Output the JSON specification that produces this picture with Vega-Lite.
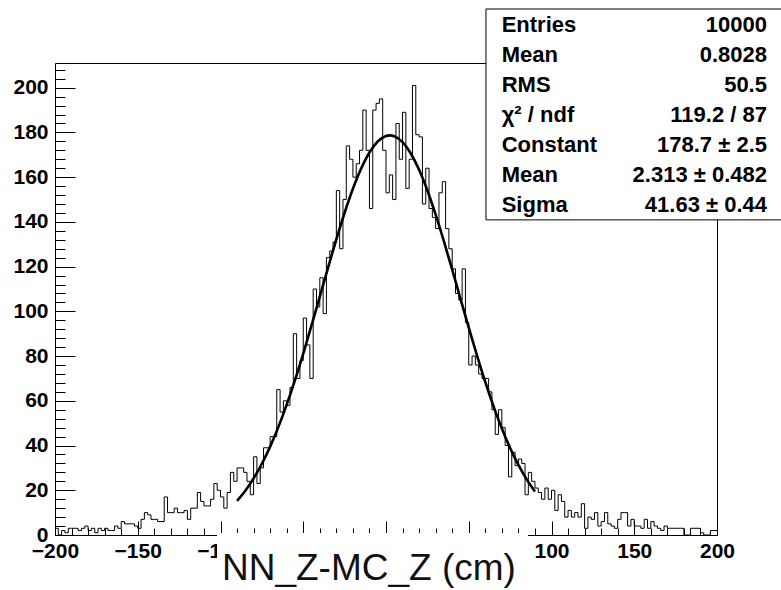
{
"$schema":"https://vega.github.io/schema/vega-lite/v6.json",
"width":662,"height":472,
"autosize":{"type":"none"},
"padding":{"left":55,"top":63,"right":64,"bottom":55},
"background":"white",
"config":{"view":{"stroke":"black","strokeWidth":1},"font":"Liberation Sans"},
"datasets":{
"bins":[
{"lo":-200,"n":3},{"lo":-198,"n":0},{"lo":-196,"n":2},{"lo":-194,"n":1},{"lo":-192,"n":3},{"lo":-190,"n":3},{"lo":-188,"n":3},{"lo":-186,"n":2},{"lo":-184,"n":3},{"lo":-182,"n":4},
{"lo":-180,"n":2},{"lo":-178,"n":3},{"lo":-176,"n":1},{"lo":-174,"n":3},{"lo":-172,"n":2},{"lo":-170,"n":3},{"lo":-168,"n":2},{"lo":-166,"n":2},{"lo":-164,"n":4},{"lo":-162,"n":3},
{"lo":-160,"n":6},{"lo":-158,"n":5},{"lo":-156,"n":5},{"lo":-154,"n":5},{"lo":-152,"n":4},{"lo":-150,"n":3},{"lo":-148,"n":7},{"lo":-146,"n":10},{"lo":-144,"n":9},{"lo":-142,"n":7},
{"lo":-140,"n":7},{"lo":-138,"n":6},{"lo":-136,"n":6},{"lo":-134,"n":17},{"lo":-132,"n":10},{"lo":-130,"n":10},{"lo":-128,"n":12},{"lo":-126,"n":10},{"lo":-124,"n":10},{"lo":-122,"n":11},
{"lo":-120,"n":7},{"lo":-118,"n":12},{"lo":-116,"n":12},{"lo":-114,"n":19},{"lo":-112,"n":15},{"lo":-110,"n":13},{"lo":-108,"n":13},{"lo":-106,"n":16},{"lo":-104,"n":23},{"lo":-102,"n":20},
{"lo":-100,"n":17},{"lo":-98,"n":12},{"lo":-96,"n":19},{"lo":-94,"n":28},{"lo":-92,"n":24},{"lo":-90,"n":30},{"lo":-88,"n":30},{"lo":-86,"n":28},{"lo":-84,"n":24},{"lo":-82,"n":18},
{"lo":-80,"n":35},{"lo":-78,"n":23},{"lo":-76,"n":30},{"lo":-74,"n":39},{"lo":-72,"n":39},{"lo":-70,"n":44},{"lo":-68,"n":44},{"lo":-66,"n":65},{"lo":-64,"n":55},{"lo":-62,"n":60},
{"lo":-60,"n":58},{"lo":-58,"n":66},{"lo":-56,"n":90},{"lo":-54,"n":70},{"lo":-52,"n":78},{"lo":-50,"n":97},{"lo":-48,"n":85},{"lo":-46,"n":70},{"lo":-44,"n":110},{"lo":-42,"n":102},
{"lo":-40,"n":115},{"lo":-38,"n":99},{"lo":-36,"n":124},{"lo":-34,"n":127},{"lo":-32,"n":131},{"lo":-30,"n":154},{"lo":-28,"n":128},{"lo":-26,"n":150},{"lo":-24,"n":174},{"lo":-22,"n":168},
{"lo":-20,"n":160},{"lo":-18,"n":166},{"lo":-16,"n":172},{"lo":-14,"n":190},{"lo":-12,"n":172},{"lo":-10,"n":146},{"lo":-8,"n":190},{"lo":-6,"n":193},{"lo":-4,"n":195},{"lo":-2,"n":172},
{"lo":0,"n":153},{"lo":2,"n":161},{"lo":4,"n":150},{"lo":6,"n":184},{"lo":8,"n":168},{"lo":10,"n":189},{"lo":12,"n":155},{"lo":14,"n":168},{"lo":16,"n":201},{"lo":18,"n":179},
{"lo":20,"n":178},{"lo":22,"n":148},{"lo":24,"n":164},{"lo":26,"n":146},{"lo":28,"n":142},{"lo":30,"n":137},{"lo":32,"n":153},{"lo":34,"n":158},{"lo":36,"n":137},{"lo":38,"n":128},
{"lo":40,"n":119},{"lo":42,"n":108},{"lo":44,"n":105},{"lo":46,"n":119},{"lo":48,"n":95},{"lo":50,"n":76},{"lo":52,"n":80},{"lo":54,"n":76},{"lo":56,"n":72},{"lo":58,"n":70},
{"lo":60,"n":70},{"lo":62,"n":64},{"lo":64,"n":56},{"lo":66,"n":45},{"lo":68,"n":56},{"lo":70,"n":48},{"lo":72,"n":40},{"lo":74,"n":26},{"lo":76,"n":37},{"lo":78,"n":31},
{"lo":80,"n":34},{"lo":82,"n":32},{"lo":84,"n":18},{"lo":86,"n":28},{"lo":88,"n":24},{"lo":90,"n":21},{"lo":92,"n":19},{"lo":94,"n":16},{"lo":96,"n":21},{"lo":98,"n":16},
{"lo":100,"n":20},{"lo":102,"n":11},{"lo":104,"n":18},{"lo":106,"n":15},{"lo":108,"n":8},{"lo":110,"n":11},{"lo":112,"n":8},{"lo":114,"n":10},{"lo":116,"n":8},{"lo":118,"n":14},
{"lo":120,"n":3},{"lo":122,"n":8},{"lo":124,"n":7},{"lo":126,"n":10},{"lo":128,"n":4},{"lo":130,"n":6},{"lo":132,"n":10},{"lo":134,"n":5},{"lo":136,"n":4},{"lo":138,"n":3},
{"lo":140,"n":7},{"lo":142,"n":10},{"lo":144,"n":10},{"lo":146,"n":4},{"lo":148,"n":7},{"lo":150,"n":4},{"lo":152,"n":4},{"lo":154,"n":3},{"lo":156,"n":7},{"lo":158,"n":3},
{"lo":160,"n":6},{"lo":162,"n":4},{"lo":164,"n":3},{"lo":166,"n":2},{"lo":168,"n":4},{"lo":170,"n":3},{"lo":172,"n":3},{"lo":174,"n":3},{"lo":176,"n":3},{"lo":178,"n":3},
{"lo":180,"n":0},{"lo":182,"n":0},{"lo":184,"n":3},{"lo":186,"n":3},{"lo":188,"n":3},{"lo":190,"n":1},{"lo":192,"n":0},{"lo":194,"n":0},{"lo":196,"n":2},{"lo":198,"n":2},
{"lo":200,"n":2}
],
"fit":[
{"x":-90,"f":15.29},{"x":-85,"f":19.81},{"x":-80,"f":25.30},{"x":-75,"f":31.86},{"x":-70,"f":39.53},{"x":-65,"f":48.35},{"x":-60,"f":58.29},{"x":-55,"f":69.27},{"x":-50,"f":81.14},{"x":-45,"f":93.68},
{"x":-40,"f":106.61},{"x":-35,"f":119.59},{"x":-30,"f":132.23},{"x":-25,"f":144.10},{"x":-20,"f":154.79},{"x":-15,"f":163.89},{"x":-10,"f":171.05},{"x":-5,"f":175.96},{"x":0,"f":178.42},{"x":2.313,"f":178.7},
{"x":5,"f":178.33},{"x":10,"f":175.68},{"x":15,"f":170.59},{"x":20,"f":163.28},{"x":25,"f":154.04},{"x":30,"f":143.25},{"x":35,"f":131.30},{"x":40,"f":118.62},{"x":45,"f":105.64},{"x":50,"f":92.72},
{"x":55,"f":80.23},{"x":60,"f":68.42},{"x":65,"f":57.51},{"x":70,"f":47.65},{"x":75,"f":38.92},{"x":80,"f":31.33},{"x":85,"f":24.86},{"x":90,"f":19.45}
],
"stats":[{"labels":["Entries","Mean","RMS","χ² / ndf","Constant","Mean","Sigma"],"vals":["10000","0.8028","50.5","119.2 / 87","178.7 ± 2.5","2.313 ± 0.482","41.63 ± 0.44"]}],
"title":[{"t":"NN_Z-MC_Z (cm)"}]
},
"layer":[
{"data":{"name":"bins"},
 "mark":{"type":"line","interpolate":"step-after","color":"black","strokeWidth":1},
 "encoding":{
  "x":{"field":"lo","type":"quantitative","title":null,"scale":{"domain":[-200,200],"nice":false,"zero":false},
   "axis":{"values":[-200,-190,-180,-170,-160,-150,-140,-130,-120,-110,-100,-90,-80,-70,-60,-50,-40,-30,-20,-10,0,10,20,30,40,50,60,70,80,90,100,110,120,130,140,150,160,170,180,190,200],
    "tickCount":1000,"format":"d",
    "labelExpr":"(datum.value % 50 === 0 && (datum.value < -60 || datum.value > 60)) ? datum.label : ''",
    "tickSize":{"condition":{"test":"datum.value % 50 === 0","value":-14},"value":-7},
    "tickColor":"black","tickWidth":1,"domain":false,"grid":false,
    "labelFont":"Liberation Sans","labelFontWeight":"bold","labelFontSize":21,"labelColor":"black",
    "labelPadding":19,"labelOverlap":false,"labelFlush":false,"title":null}},
  "y":{"field":"n","type":"quantitative","title":null,"scale":{"domain":[0,211.05],"nice":false},
   "axis":{"values":[0,4,8,12,16,20,24,28,32,36,40,44,48,52,56,60,64,68,72,76,80,84,88,92,96,100,104,108,112,116,120,124,128,132,136,140,144,148,152,156,160,164,168,172,176,180,184,188,192,196,200,204,208],
    "tickCount":1000,"format":"d",
    "labelExpr":"datum.value % 20 === 0 ? datum.label : ''",
    "tickSize":{"condition":{"test":"datum.value % 20 === 0","value":-20},"value":-10},
    "tickColor":"black","tickWidth":1,"domain":false,"grid":false,
    "labelFont":"Liberation Sans","labelFontWeight":"bold","labelFontSize":21,"labelColor":"black",
    "labelPadding":27,"labelOverlap":false,"labelFlush":false,"title":null}}
 }},
{"data":{"name":"fit"},
 "mark":{"type":"line","interpolate":"monotone","color":"black","strokeWidth":2.6},
 "encoding":{"x":{"field":"x","type":"quantitative","title":null},"y":{"field":"f","type":"quantitative","title":null}}},
{"data":{"values":[{}]},
 "mark":{"type":"rect","fill":"white","stroke":"black","strokeWidth":1},
 "encoding":{"x":{"datum":60.4},"x2":{"datum":250},"y":{"datum":235.2},"y2":{"datum":140.9}}},
{"data":{"name":"stats"},
 "mark":{"type":"text","align":"left","baseline":"alphabetic","font":"Liberation Sans","fontSize":22,"fontWeight":"bold","lineHeight":30,"color":"black"},
 "encoding":{"x":{"datum":69.9},"y":{"datum":224.8},"text":{"field":"labels","type":"nominal"}}},
{"data":{"name":"stats"},
 "mark":{"type":"text","align":"right","baseline":"alphabetic","font":"Liberation Sans","fontSize":22,"fontWeight":"bold","lineHeight":30,"color":"black"},
 "encoding":{"x":{"datum":230.2},"y":{"datum":224.8},"text":{"field":"vals","type":"nominal"}}},
{"data":{"values":[{}]},
 "mark":{"type":"rect","fill":"white","strokeWidth":0},
 "encoding":{"x":{"datum":-102.1},"x2":{"datum":85.8},"y":{"datum":0.9},"y2":{"datum":-30}}},
{"data":{"name":"title"},
 "mark":{"type":"text","align":"center","baseline":"alphabetic","font":"Liberation Sans","fontSize":37,"color":"#111111"},
 "encoding":{"x":{"datum":-10.3},"y":{"datum":-20.1},"text":{"field":"t","type":"nominal"}}}
]
}
